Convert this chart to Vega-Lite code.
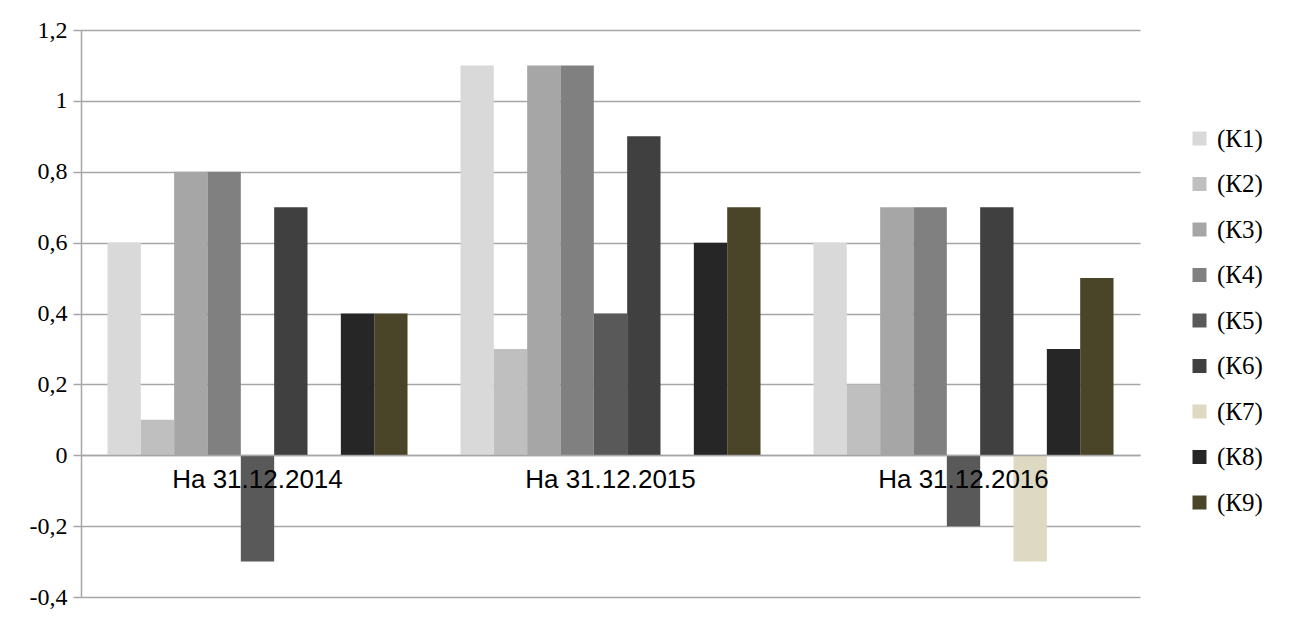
{
  "$schema": "https://vega.github.io/schema/vega-lite/v6.json",
  "width": 1059,
  "height": 567,
  "autosize": {"type": "none"},
  "padding": {"left": 81, "top": 30, "right": 159, "bottom": 33},
  "background": "white",
  "config": {
    "view": {"stroke": null},
    "axis": {"labelColor": "#000000", "titleColor": "#000000"}
  },
  "data": {
    "values": [
      {"date": "На 31.12.2014", "k": "(К1)", "v": 0.6},
      {"date": "На 31.12.2014", "k": "(К2)", "v": 0.1},
      {"date": "На 31.12.2014", "k": "(К3)", "v": 0.8},
      {"date": "На 31.12.2014", "k": "(К4)", "v": 0.8},
      {"date": "На 31.12.2014", "k": "(К5)", "v": -0.3},
      {"date": "На 31.12.2014", "k": "(К6)", "v": 0.7},
      {"date": "На 31.12.2014", "k": "(К8)", "v": 0.4},
      {"date": "На 31.12.2014", "k": "(К9)", "v": 0.4},
      {"date": "На 31.12.2015", "k": "(К1)", "v": 1.1},
      {"date": "На 31.12.2015", "k": "(К2)", "v": 0.3},
      {"date": "На 31.12.2015", "k": "(К3)", "v": 1.1},
      {"date": "На 31.12.2015", "k": "(К4)", "v": 1.1},
      {"date": "На 31.12.2015", "k": "(К5)", "v": 0.4},
      {"date": "На 31.12.2015", "k": "(К6)", "v": 0.9},
      {"date": "На 31.12.2015", "k": "(К8)", "v": 0.6},
      {"date": "На 31.12.2015", "k": "(К9)", "v": 0.7},
      {"date": "На 31.12.2016", "k": "(К1)", "v": 0.6},
      {"date": "На 31.12.2016", "k": "(К2)", "v": 0.2},
      {"date": "На 31.12.2016", "k": "(К3)", "v": 0.7},
      {"date": "На 31.12.2016", "k": "(К4)", "v": 0.7},
      {"date": "На 31.12.2016", "k": "(К5)", "v": -0.2},
      {"date": "На 31.12.2016", "k": "(К6)", "v": 0.7},
      {"date": "На 31.12.2016", "k": "(К7)", "v": -0.3},
      {"date": "На 31.12.2016", "k": "(К8)", "v": 0.3},
      {"date": "На 31.12.2016", "k": "(К9)", "v": 0.5}
    ]
  },
  "mark": {"type": "bar", "stroke": null},
  "encoding": {
    "x": {
      "field": "date",
      "type": "nominal",
      "scale": {"paddingInner": 0.15, "paddingOuter": 0.075},
      "axis": {
        "title": null,
        "labelAngle": 0,
        "ticks": false,
        "domain": true,
        "domainColor": "#a6a6a6",
        "domainWidth": 1.5,
        "offset": -142,
        "labelPadding": 11,
        "labelFont": "Liberation Sans",
        "labelFontSize": 26,
        "zindex": 1
      }
    },
    "xOffset": {
      "field": "k",
      "type": "nominal",
      "scale": {
        "domain": ["(К1)", "(К2)", "(К3)", "(К4)", "(К5)", "(К6)", "(К7)", "(К8)", "(К9)"],
        "paddingInner": 0,
        "paddingOuter": 0
      }
    },
    "y": {
      "field": "v",
      "type": "quantitative",
      "scale": {"domain": [-0.4, 1.2], "nice": false, "zero": false},
      "axis": {
        "title": null,
        "values": [-0.4, -0.2, 0, 0.2, 0.4, 0.6, 0.8, 1, 1.2],
        "labelExpr": "replace(toString(round(datum.value * 10) / 10), '.', ',')",
        "labelFont": "Times New Roman, Liberation Serif, DejaVu Serif, serif",
        "labelFontSize": 24,
        "labelPadding": 6,
        "tickSize": 8,
        "tickColor": "#a6a6a6",
        "tickWidth": 1.5,
        "domainColor": "#a6a6a6",
        "domainWidth": 1.5,
        "grid": true,
        "gridColor": "#a6a6a6",
        "gridWidth": 1.5
      }
    },
    "color": {
      "field": "k",
      "type": "nominal",
      "scale": {
        "domain": ["(К1)", "(К2)", "(К3)", "(К4)", "(К5)", "(К6)", "(К7)", "(К8)", "(К9)"],
        "range": ["#d9d9d9", "#bfbfbf", "#a6a6a6", "#808080", "#595959", "#404040", "#ddd9c3", "#262626", "#4a4529"]
      },
      "legend": {
        "title": null,
        "orient": "none",
        "legendX": 1106,
        "legendY": 96,
        "padding": 0,
        "symbolType": "square",
        "symbolSize": 196,
        "symbolStrokeWidth": 0,
        "labelFont": "Times New Roman, Liberation Serif, DejaVu Serif, serif",
        "labelFontSize": 25,
        "labelColor": "#000000",
        "labelOffset": 5,
        "rowPadding": 19.5,
        "labelExpr": "indexof(['(К4)', '(К6)', '(К7)', '(К8)'], datum.label) >= 0 ? datum.label : '\u00a0' + datum.label"
      }
    }
  }
}
